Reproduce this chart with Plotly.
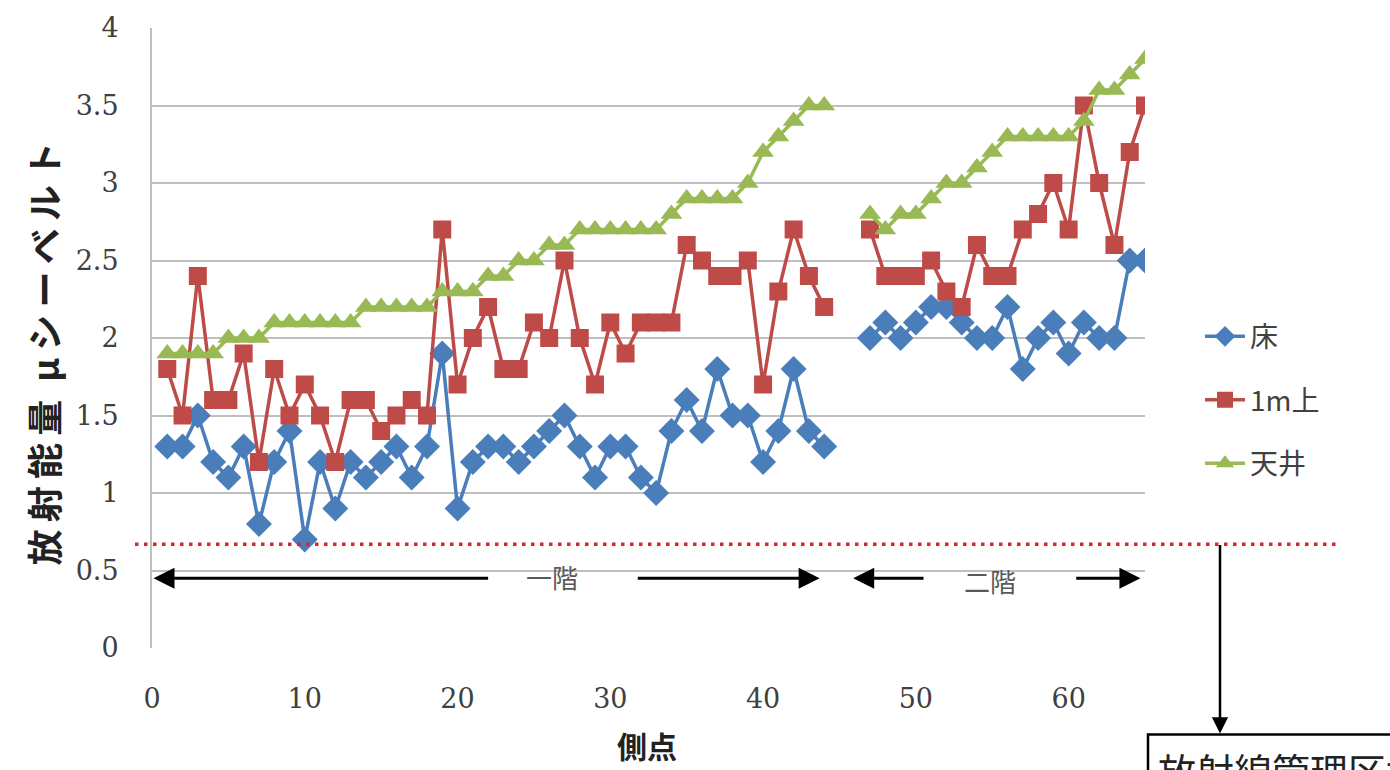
import plotly.graph_objects as go

# Measurement points (側点) and dose readings for each height
points = list(range(1, 66))

floor = [1.3, 1.3, 1.5, 1.2, 1.1, 1.3, 0.8, 1.2, 1.4, 0.7,
         1.2, 0.9, 1.2, 1.1, 1.2, 1.3, 1.1, 1.3, 1.9, 0.9,
         1.2, 1.3, 1.3, 1.2, 1.3, 1.4, 1.5, 1.3, 1.1, 1.3,
         1.3, 1.1, 1.0, 1.4, 1.6, 1.4, 1.8, 1.5, 1.5, 1.2,
         1.4, 1.8, 1.4, 1.3, None, None, 2.0, 2.1, 2.0, 2.1,
         2.2, 2.2, 2.1, 2.0, 2.0, 2.2, 1.8, 2.0, 2.1, 1.9,
         2.1, 2.0, 2.0, 2.5, 2.5]

one_meter = [1.8, 1.5, 2.4, 1.6, 1.6, 1.9, 1.2, 1.8, 1.5, 1.7,
             1.5, 1.2, 1.6, 1.6, 1.4, 1.5, 1.6, 1.5, 2.7, 1.7,
             2.0, 2.2, 1.8, 1.8, 2.1, 2.0, 2.5, 2.0, 1.7, 2.1,
             1.9, 2.1, 2.1, 2.1, 2.6, 2.5, 2.4, 2.4, 2.5, 1.7,
             2.3, 2.7, 2.4, 2.2, None, None, 2.7, 2.4, 2.4, 2.4,
             2.5, 2.3, 2.2, 2.6, 2.4, 2.4, 2.7, 2.8, 3.0, 2.7,
             3.5, 3.0, 2.6, 3.2, 3.5]

ceiling = [1.9, 1.9, 1.9, 1.9, 2.0, 2.0, 2.0, 2.1, 2.1, 2.1,
           2.1, 2.1, 2.1, 2.2, 2.2, 2.2, 2.2, 2.2, 2.3, 2.3,
           2.3, 2.4, 2.4, 2.5, 2.5, 2.6, 2.6, 2.7, 2.7, 2.7,
           2.7, 2.7, 2.7, 2.8, 2.9, 2.9, 2.9, 2.9, 3.0, 3.2,
           3.3, 3.4, 3.5, 3.5, None, None, 2.8, 2.7, 2.8, 2.8,
           2.9, 3.0, 3.0, 3.1, 3.2, 3.3, 3.3, 3.3, 3.3, 3.3,
           3.4, 3.6, 3.6, 3.7, 3.8]

series_names = ["床", "1m上", "天井"]
x_ticks = [0, 10, 20, 30, 40, 50, 60]
y_ticks = [0, 0.5, 1, 1.5, 2, 2.5, 3, 3.5, 4]
y_tick_text = ["0", "0.5", "1", "1.5", "2", "2.5", "3", "3.5", "4"]
limit_level = 0.67

W, H = 1390, 770
L, R, T, B = 152, 245, 25, 122
PW, PH = W - L - R, H - T - B


def px(xp):
    return (xp - L) / PW


def py(yp):
    return (H - B - yp) / PH


BLUE = "#4A7EBB"
RED = "#BE4B48"
GREEN = "#98B954"
GRID = "#BFBFBF"
SERIF = "DejaVu Serif"
CJK = "Noto Sans CJK JP"

fig = go.Figure()
styles = [
    (floor, BLUE, "diamond", 20),
    (one_meter, RED, "square", 18),
    (ceiling, GREEN, "triangle-up", 19),
]
for name, (vals, col, sym, size) in zip(series_names, styles):
    fig.add_trace(go.Scatter(
        x=points, y=vals, name=name, legendgroup=name,
        mode="lines+markers", connectgaps=False,
        line=dict(color=col, width=3.5),
        marker=dict(symbol=sym, size=size, color=col),
    ))

shapes = [
    # dotted control-level line
    dict(type="line", xref="paper", yref="y", x0=px(135), x1=px(1340),
         y0=limit_level, y1=limit_level,
         line=dict(color="#D8262B", width=3.5, dash="3.5px,5.5px")),
    # white boxes behind floor labels
    dict(type="rect", xref="paper", yref="paper", layer="below",
         x0=px(494), x1=px(636), y0=py(595), y1=py(560),
         fillcolor="white", line=dict(width=0)),
    dict(type="rect", xref="paper", yref="paper", layer="below",
         x0=px(933), x1=px(1073), y0=py(595), y1=py(560),
         fillcolor="white", line=dict(width=0)),
    # callout box
    dict(type="rect", xref="paper", yref="paper",
         x0=px(1148), x1=px(1420), y0=py(735), y1=py(820),
         fillcolor="white", line=dict(color="black", width=2.5)),
]

annotations = []


def arrow(x_head, x_tail, yv):
    annotations.append(dict(
        x=x_head, y=yv, xref="x", yref="y", ax=x_tail, ay=yv,
        axref="x", ayref="y", text="", showarrow=True,
        arrowhead=2, arrowsize=1.4, arrowwidth=3, arrowcolor="black"))


floor_y = 0.45
arrow(0.1, 22.1, floor_y)
arrow(43.7, 31.7, floor_y)
arrow(45.9, 50.6, floor_y)
arrow(64.7, 60.4, floor_y)

# vertical title, characters spaced slightly apart
y_title = "\u2009".join("放射能量") + "\u2002" + "\u2009".join("μシーベルト")

annotations += [
    dict(x=px(552), y=py(576), xref="paper", yref="paper", text="一階",
         xanchor="center", yanchor="middle", showarrow=False,
         font=dict(family=CJK, size=26, color="#595959")),
    dict(x=px(990), y=py(580), xref="paper", yref="paper", text="二階",
         xanchor="center", yanchor="middle", showarrow=False,
         font=dict(family=CJK, size=26, color="#595959")),
    # arrow down to the callout box
    dict(x=px(1220), y=py(734), xref="paper", yref="paper",
         ax=0, ay=-190, axref="pixel", ayref="pixel", text="",
         showarrow=True, arrowhead=2, arrowsize=1.3, arrowwidth=2.5,
         arrowcolor="black"),
    dict(x=px(1156), y=py(740), xref="paper", yref="paper",
         xanchor="left", yanchor="top", text="放射線管理区域",
         showarrow=False, font=dict(family=CJK, size=38, color="#222")),
    # axis titles
    dict(x=px(43), y=py(352), xref="paper", yref="paper",
         xanchor="center", yanchor="middle",
         text="<b>" + y_title + "</b>", textangle=-90,
         showarrow=False, font=dict(family=CJK, size=36, color="#222")),
    dict(x=px(647), y=py(745), xref="paper", yref="paper",
         xanchor="center", yanchor="middle",
         text="<b>側点</b>", showarrow=False,
         font=dict(family=CJK, size=30, color="#222")),
]

fig.update_layout(
    width=W, height=H,
    margin=dict(l=L, r=R, t=T, b=B),
    paper_bgcolor="white", plot_bgcolor="white",
    shapes=shapes, annotations=annotations,
    showlegend=True,
    legend=dict(
        x=px(1200), y=py(310), xanchor="left", yanchor="top",
        font=dict(family=CJK, size=28, color="#404040"),
        tracegroupgap=24, itemwidth=40, bgcolor="rgba(0,0,0,0)",
    ),
    xaxis=dict(
        range=[0, 65], tickvals=x_ticks, showgrid=False, zeroline=False,
        showline=False, ticks="", ticklabelstandoff=32,
        tickfont=dict(family=SERIF, size=27, color="#404040"),
    ),
    yaxis=dict(
        range=[0, 4], tickvals=y_ticks, ticktext=y_tick_text,
        showgrid=True, gridcolor=GRID, gridwidth=2, zeroline=False,
        showline=True, linecolor=GRID, linewidth=2, ticks="",
        ticklabelstandoff=26,
        tickfont=dict(family=SERIF, size=27, color="#404040"),
    ),
)

fig.write_html("out.html")
